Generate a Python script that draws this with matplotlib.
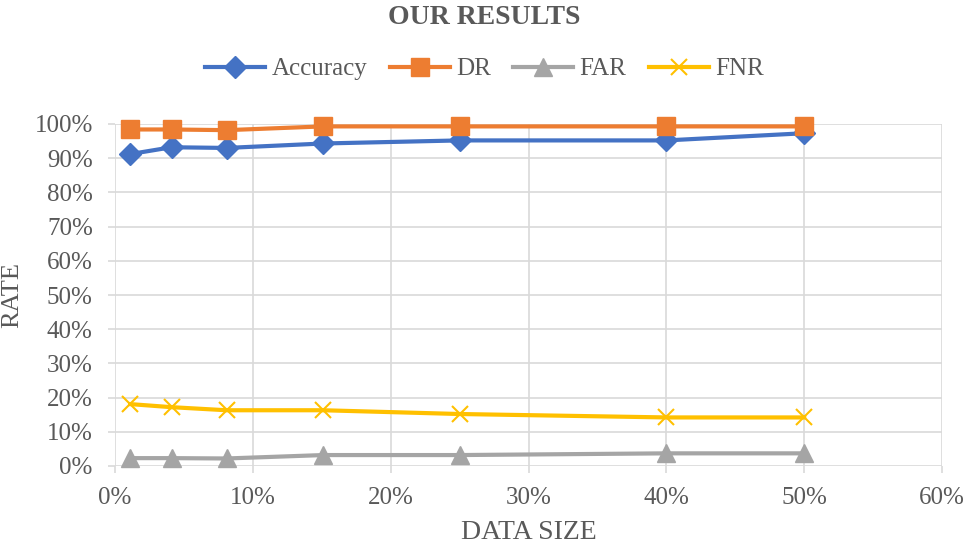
import numpy as np
import matplotlib.pyplot as plt
from matplotlib.ticker import PercentFormatter

plt.rcParams['font.family'] = ['Liberation Serif', 'DejaVu Serif']

# data size (%) and rates (%)
data_size = [1.1, 4.1, 8.1, 15.1, 25, 40, 50]
accuracy = [91.2, 93.2, 93.0, 94.3, 95.2, 95.2, 97.3]
dr = [98.4, 98.4, 98.2, 99.3, 99.3, 99.3, 99.3]
far = [2.3, 2.3, 2.2, 3.2, 3.2, 3.7, 3.7]
fnr = [18.1, 17.2, 16.3, 16.3, 15.2, 14.2, 14.2]

text_col = "#595959"
grid_col = "#D9D9D9"

fig = plt.figure(figsize=(9.69, 5.46), dpi=100)
ax = fig.add_axes([115 / 969, 1 - 466 / 546, (942 - 115) / 969, (466 - 124) / 546])

ax.plot(data_size, accuracy, color="#4472C4", linewidth=3, marker="D", markersize=11, label="Accuracy")
ax.plot(data_size, dr, color="#ED7D31", linewidth=3, marker="s", markersize=13, label="DR")
ax.plot(data_size, far, color="#A5A5A5", linewidth=3, marker="^", markersize=13, label="FAR")
ax.plot(data_size, fnr, color="#FFC000", linewidth=3, marker="x", markersize=12,
        markeredgewidth=1.5, label="FNR")

ax.set_xlim(0, 60)
ax.set_ylim(0, 100)
ax.set_xticks(np.arange(0, 61, 10))
ax.set_yticks(np.arange(0, 101, 10))
ax.xaxis.set_major_formatter(PercentFormatter(decimals=0))
ax.yaxis.set_major_formatter(PercentFormatter(decimals=0))
ax.grid(True, color=grid_col, linewidth=1.2)
ax.set_axisbelow(True)
for s in ax.spines.values():
    s.set_visible(False)
ax.tick_params(length=5, width=1.2, color=grid_col, labelsize=18, labelcolor=text_col)
ax.tick_params(axis="x", pad=10)
ax.tick_params(axis="y", pad=11)
for ln in ax.lines:
    ln.set_clip_on(False)

ax.set_xlabel("DATA SIZE", fontsize=20, color=text_col, labelpad=8)
ax.set_ylabel("RATE", fontsize=19, color=text_col, labelpad=8)

fig.text(0.5, 0.99, "OUR RESULTS", ha="center", va="top", fontsize=20,
         fontweight="bold", color=text_col)
leg = fig.legend(loc="center", bbox_to_anchor=(0.5, 1 - 69 / 546), ncol=4, frameon=False,
                 fontsize=18, handlelength=2.4, columnspacing=0.9, handletextpad=0.25)
for t in leg.get_texts():
    t.set_color(text_col)

fig.savefig("out.png", dpi=100)
